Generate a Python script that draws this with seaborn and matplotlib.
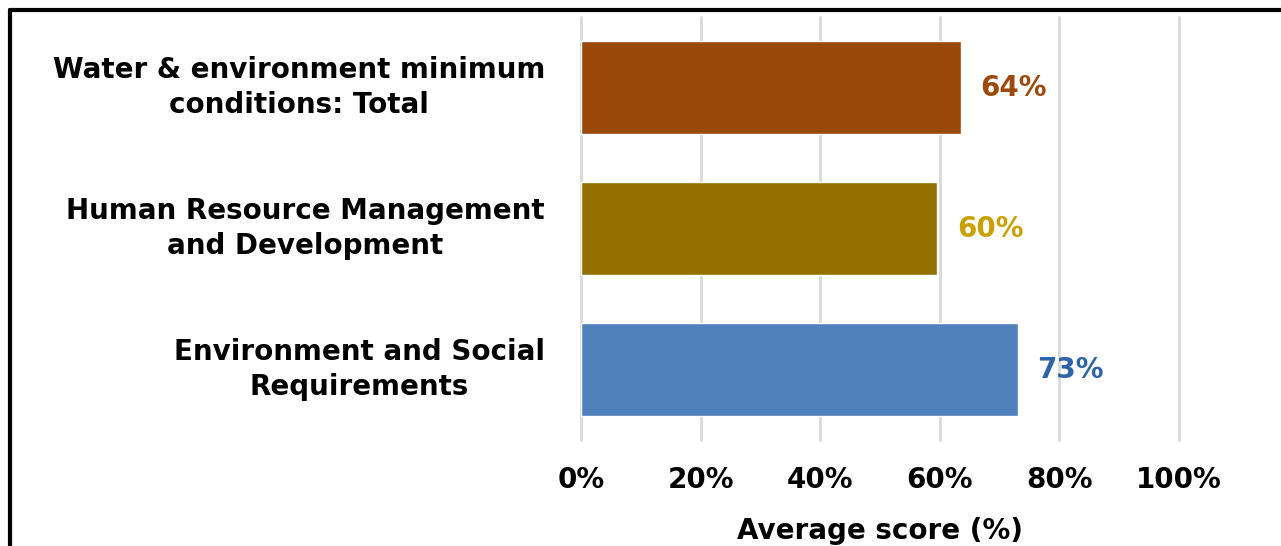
import matplotlib
matplotlib.use("Agg")
import matplotlib.pyplot as plt
import seaborn as sns
import pandas as pd
from matplotlib.lines import Line2D
from matplotlib.ticker import FuncFormatter

categories = [
    "Water & environment minimum\nconditions: Total",
    "Human Resource Management\nand Development",
    "Environment and Social\nRequirements",
]
values = [63.5, 59.6, 73.0]
value_labels = ["64%", "60%", "73%"]
bar_colors = ["#984807", "#937000", "#4F81BD"]
label_colors = ["#9C4A0E", "#C9A000", "#2E63A8"]
x_ticks = [0, 20, 40, 60, 80, 100]
x_title = "Average score (%)"

sns.set_theme(style="white")
plt.rcParams["font.family"] = ["DejaVu Sans"]

df = pd.DataFrame({"category": categories, "value": values})

fig = plt.figure(figsize=(12.81, 5.46), dpi=100)
W, H = 1281, 546
ax = fig.add_axes([581 / W, 1 - 440 / H, (1179 - 581) / W, (440 - 17) / H])

sns.barplot(data=df, x="value", y="category", hue="category",
            palette=bar_colors, orient="h", width=0.66, legend=False,
            ax=ax, zorder=3, saturation=1)

ax.set_xlim(0, 100)
ax.set_ylim(2.5, -0.5)
ax.set_xticks(x_ticks)
ax.xaxis.set_major_formatter(FuncFormatter(lambda v, p: f"{v:.0f}%"))
ax.grid(axis="x", color="#D9D9D9", linewidth=2, zorder=0)
ax.grid(axis="y", visible=False)
for gl in ax.get_xgridlines():
    gl.set_clip_on(False)
for s in ax.spines.values():
    s.set_visible(False)

ax.tick_params(axis="x", length=0, pad=19, labelsize=20, labelcolor="black")
ax.tick_params(axis="y", length=0, pad=26, labelsize=20, labelcolor="black")
for t in ax.get_xticklabels():
    t.set_fontweight("bold")
for t in ax.get_yticklabels():
    t.set_fontweight("bold")
    t.set_multialignment("center")
    t.set_verticalalignment("center")
    t.set_linespacing(1.3)

ax.set_ylabel("")
ax.set_xlabel(x_title, fontsize=20, fontweight="bold", labelpad=16, color="black")

for i, (v, lab, c) in enumerate(zip(values, value_labels, label_colors)):
    ax.annotate(lab, xy=(v, i), xytext=(14, 0), textcoords="offset points",
                ha="left", va="center", fontsize=20, fontweight="bold", color=c)

# outer frame (top and left edges)
fig.add_artist(Line2D([10 / W, 10 / W], [0, 1 - 10 / H], transform=fig.transFigure,
                      color="black", linewidth=3))
fig.add_artist(Line2D([10 / W, 1], [1 - 10 / H, 1 - 10 / H], transform=fig.transFigure,
                      color="black", linewidth=3))

fig.savefig("out.png", dpi=100, facecolor="white")
